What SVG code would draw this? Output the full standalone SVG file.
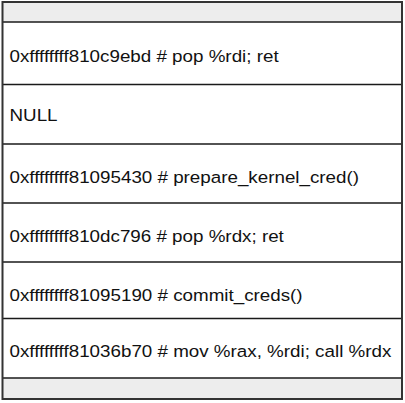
<svg xmlns="http://www.w3.org/2000/svg" width="405" height="403" viewBox="0 0 405 403">
<style>
.band{fill:#ededed;}
.sep{stroke:#1a1a1a;stroke-width:1.6;}
.t{font-family:"Liberation Sans",Arial,sans-serif;font-size:17px;fill:#111;}
</style>
<rect x="0" y="0" width="405" height="403" fill="#fff"/>
<g id="top-band"><rect class="band" x="3" y="2" width="399" height="20"/></g>
<g id="bottom-band"><rect class="band" x="3" y="378" width="399" height="21"/></g>
<g id="connectors">
<line class="sep" x1="3" y1="22" x2="402" y2="22"/>
<line class="sep" x1="3" y1="84.5" x2="402" y2="84.5"/>
<line class="sep" x1="3" y1="144" x2="402" y2="144"/>
<line class="sep" x1="3" y1="203" x2="402" y2="203"/>
<line class="sep" x1="3" y1="262" x2="402" y2="262"/>
<line class="sep" x1="3" y1="318.5" x2="402" y2="318.5"/>
<line class="sep" x1="3" y1="378" x2="402" y2="378"/>
</g>
<g id="row1"><text class="t" transform="translate(9.5,62) scale(1.106,1)">0xffffffff810c9ebd # pop %rdi; ret</text></g>
<g id="row2"><text class="t" transform="translate(9.5,121) scale(1.106,1)">NULL</text></g>
<g id="row3"><text class="t" transform="translate(9.5,183) scale(1.106,1)">0xffffffff81095430 # prepare_kernel_cred()</text></g>
<g id="row4"><text class="t" transform="translate(9.5,242) scale(1.106,1)">0xffffffff810dc796 # pop %rdx; ret</text></g>
<g id="row5"><text class="t" transform="translate(9.5,301) scale(1.106,1)">0xffffffff81095190 # commit_creds()</text></g>
<g id="row6"><text class="t" transform="translate(9.5,357) scale(1.106,1)">0xffffffff81036b70 # mov %rax, %rdi; call %rdx</text></g>
<g id="frame"><rect x="2.5" y="2" width="399.5" height="397" fill="none" stroke="#333" stroke-width="2"/></g>
</svg>
